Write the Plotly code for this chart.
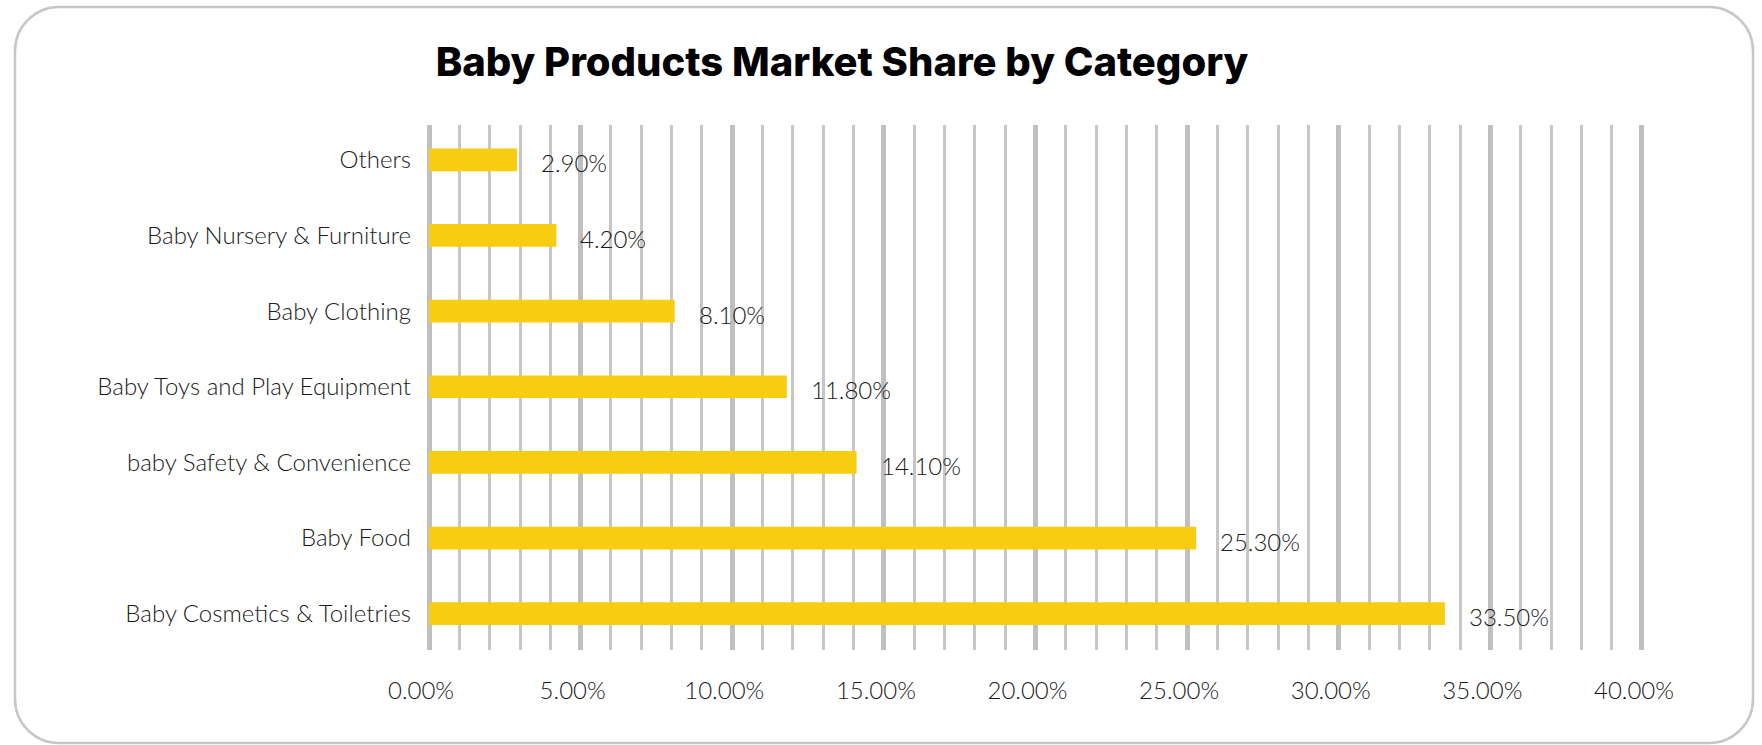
import plotly.graph_objects as go

# Market share by product category (percent), listed top to bottom
categories = [
    "Others",
    "Baby Nursery & Furniture",
    "Baby Clothing",
    "Baby Toys and Play Equipment",
    "baby Safety & Convenience",
    "Baby Food",
    "Baby Cosmetics & Toiletries",
]
shares = [2.9, 4.2, 8.1, 11.8, 14.1, 25.3, 33.5]

x_tick_values = [0, 5, 10, 15, 20, 25, 30, 35, 40]

TITLE = "Baby Products Market Share by Category"
BAR_COLOR = "#F8CD11"
GRID_MAJOR = "#BFBFBF"
GRID_MINOR = "#C6C6C6"
TEXT_COLOR = "#1A1A1A"
LABEL_FONT = "Lato"
LABEL_SIZE = 24

FIG_W, FIG_H = 1762, 745
# plot area in pixels
L, T, W, H = 426, 125, 1219, 525


def px_x(px):
    return (px - L) / W


def px_y(py):
    return 1 - (py - T) / H


def rounded_rect_path(x0, y0, x1, y1, r):
    k = 0.5523 * r

    def p(x, y):
        return f"{px_x(x):.5f},{px_y(y):.5f}"

    return (
        f"M {p(x0 + r, y0)} L {p(x1 - r, y0)} "
        f"C {p(x1 - r + k, y0)} {p(x1, y0 + r - k)} {p(x1, y0 + r)} "
        f"L {p(x1, y1 - r)} "
        f"C {p(x1, y1 - r + k)} {p(x1 - r + k, y1)} {p(x1 - r, y1)} "
        f"L {p(x0 + r, y1)} "
        f"C {p(x0 + r - k, y1)} {p(x0, y1 - r + k)} {p(x0, y1 - r)} "
        f"L {p(x0, y0 + r)} "
        f"C {p(x0, y0 + r - k)} {p(x0 + r - k, y0)} {p(x0 + r, y0)} Z"
    )


fig = go.Figure(
    go.Bar(
        x=shares,
        y=categories,
        orientation="h",
        width=0.3,
        marker=dict(color=BAR_COLOR, line=dict(width=0)),
        hoverinfo="skip",
    )
)

# value labels to the right of each bar
for cat, val in zip(categories, shares):
    fig.add_annotation(
        x=val,
        y=cat,
        text=f"{val:.2f}%",
        showarrow=False,
        xanchor="left",
        yanchor="middle",
        xshift=22,
        yshift=-3,
        font=dict(family=LABEL_FONT, size=LABEL_SIZE, color=TEXT_COLOR, weight=300),
    )

fig.add_shape(
    type="path",
    path=rounded_rect_path(15, 7, 1753, 743, 44),
    xref="paper",
    yref="paper",
    line=dict(color="#C6C6C6", width=2.5),
    fillcolor="rgba(0,0,0,0)",
    layer="below",
)

fig.update_layout(
    width=FIG_W,
    height=FIG_H,
    margin=dict(l=L, r=FIG_W - L - W, t=T, b=FIG_H - T - H, pad=0),
    paper_bgcolor="white",
    plot_bgcolor="white",
    showlegend=False,
    title=dict(
        text=TITLE,
        x=842 / FIG_W,
        xref="container",
        xanchor="center",
        y=1 - 62 / FIG_H,
        yref="container",
        yanchor="middle",
        font=dict(family="Inter", size=40, color="#000000", weight=800),
    ),
    xaxis=dict(
        range=[-0.1, 40.1],
        tickmode="array",
        tickvals=x_tick_values,
        ticktext=[f"{v:.2f}%" for v in x_tick_values],
        showgrid=True,
        gridcolor=GRID_MAJOR,
        gridwidth=5,
        zeroline=False,
        showline=False,
        ticks="",
        ticklabelstandoff=24,
        ticklabelshift=-8,
        tickfont=dict(family=LABEL_FONT, size=LABEL_SIZE, color=TEXT_COLOR, weight=300),
        minor=dict(dtick=1, tick0=0, showgrid=True, gridcolor=GRID_MINOR, gridwidth=2.5),
        fixedrange=True,
    ),
    yaxis=dict(
        type="category",
        categoryorder="array",
        categoryarray=categories,
        range=[6.48, -0.46],
        showgrid=False,
        zeroline=False,
        showline=False,
        ticks="",
        ticklabelstandoff=14,
        tickfont=dict(family=LABEL_FONT, size=LABEL_SIZE, color=TEXT_COLOR, weight=300),
        fixedrange=True,
    ),
)

fig.write_html("out.html")
